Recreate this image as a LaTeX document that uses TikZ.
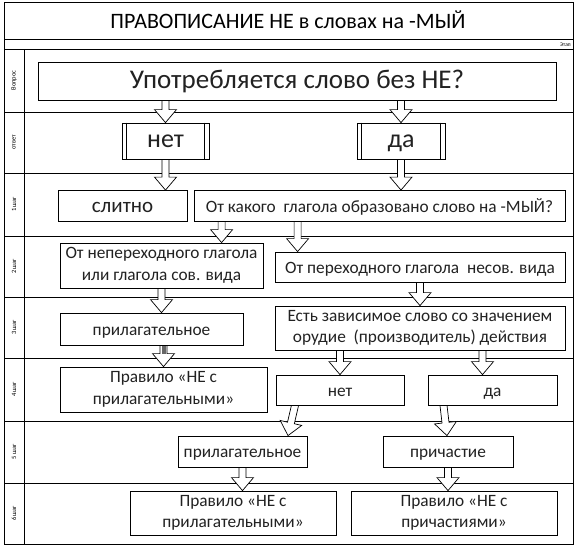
\documentclass[tikz,border=0pt]{standalone}
\usepackage{fontspec}
\setmainfont{Carlito}
\usetikzlibrary{calc}
\pgfdeclarelayer{bgframe}
\pgfdeclarelayer{bgarrow}
\pgfsetlayers{bgframe,bgarrow,main}
\definecolor{txt}{HTML}{222222}
\tikzset{
  box/.style={draw, line width=0.8pt, fill=white, inner sep=1pt, align=center,
    text=txt, font=\fontsize{17.3}{21.5}\selectfont},
  sline/.style={text height=12.5pt, text depth=0.5pt},
  framel/.style={line width=0.7pt},
  arrbody/.style={draw, line width=0.7pt, line join=miter},
  lbl/.style={rotate=90, font=\fontsize{6.5}{7}\selectfont},
}
\newcommand{\blockarrow}[3][white]{%
  \begin{pgfonlayer}{bgarrow}
    \path (#2) coordinate (bs) (#3) coordinate (be);
    \path ($(be)!13pt!(bs)$) coordinate (bh);
    \fill[white] ($(bs)!3.5pt!90:(be)$) -- ($(bh)!3.5pt!90:(be)$) -- ($(bh)!11pt!90:(be)$) -- (be)
      -- ($(bh)!11pt!-90:(be)$) -- ($(bh)!3.5pt!-90:(be)$) -- ($(bs)!3.5pt!-90:(be)$) -- cycle;
    \fill[#1] ($(bs)!2pt!90:(be)$) -- ($(bh)!2pt!90:(be)$) -- ($(bh)!2pt!-90:(be)$)
      -- ($(bs)!2pt!-90:(be)$) -- cycle;
    \draw[arrbody] ($(bs)!3.5pt!90:(be)$) -- ($(bh)!3.5pt!90:(be)$) -- ($(bh)!11pt!90:(be)$) -- (be)
      -- ($(bh)!11pt!-90:(be)$) -- ($(bh)!3.5pt!-90:(be)$) -- ($(bs)!3.5pt!-90:(be)$);
  \end{pgfonlayer}}
\begin{document}
\begin{tikzpicture}[x=1pt,y=-1pt]
\useasboundingbox (0,0) rectangle (576,546);
% frame
\begin{pgfonlayer}{bgframe}
  \draw[framel] (4,2) rectangle (573,544);
  \foreach \yy in {39,49,112,173,236,297,358,421,483}
    \draw[framel] (4,\yy) -- (573,\yy);
  \draw[framel] (24,49) -- (24,544);
\end{pgfonlayer}
\node[font=\fontsize{22}{26}\selectfont] (title) at (288,20) {ПРАВОПИСАНИЕ НЕ в словах на -МЫЙ};
\node[font=\fontsize{5.5}{6}\selectfont, anchor=east, inner sep=0pt] (etap) at (571,44.5) {Этап};
\node[lbl] (l0) at (14,80.5) {Вопрос};
\node[lbl] (l1) at (14,142.5) {ответ};
\node[lbl] (l2lab) at (14,204.5) {1 шаг};
\node[lbl] (l3lab) at (14,266.5) {2 шаг};
\node[lbl] (l4lab) at (14,327.5) {3 шаг};
\node[lbl] (l5lab) at (14,389.5) {4 шаг};
\node[lbl] (l6lab) at (14,452) {5 шаг};
\node[lbl] (l7lab) at (14,513.5) {6 шаг};
% boxes
\node[box, text height=19.4pt, text depth=5.9pt, minimum width=518pt, minimum height=38pt, font=\fontsize{27}{30}\selectfont] (q) at (297,81.5) {Употребляется слово без НЕ?};
\node[box, text height=18.7pt, text depth=5.7pt, minimum width=87pt, minimum height=36pt, font=\fontsize{26}{28}\selectfont] (nt) at (165.5,141) {нет};
\node[box, text height=18.7pt, text depth=5.7pt, minimum width=88pt, minimum height=36pt, font=\fontsize{26}{28}\selectfont] (da) at (401,141) {да};
\foreach \n in {nt,da}{
  \draw[line width=0.8pt] ([xshift=5pt]\n.north west) -- ([xshift=5pt]\n.south west);
  \draw[line width=0.8pt] ([xshift=-5pt]\n.north east) -- ([xshift=-5pt]\n.south east);
}
\node[box, text height=15.1pt, text depth=2pt, minimum width=129pt, minimum height=31pt, font=\fontsize{21}{24}\selectfont] (sl) at (122.5,206) {слитно};
\node[box, sline, minimum width=371pt, minimum height=31pt] (ok) at (379.5,206) {От какого\ \ глагола образовано слово на -МЫЙ?};
\node[box, minimum width=203pt, minimum height=45pt] (l2) at (161.5,265.5) {От непереходного глагола\\или глагола сов. вида};
\node[box, sline, minimum width=290pt, minimum height=30pt] (r2) at (420,267) {От переходного глагола\ \ несов. вида};
\node[box, sline, minimum width=183pt, minimum height=32pt] (a3) at (151.5,329) {прилагательное};
\node[box, minimum width=290pt, minimum height=44pt] (q3) at (420,328) {Есть зависимое слово со значением\\орудие\ \ (производитель) действия};
\node[box, minimum width=207pt, minimum height=45pt] (r4) at (163.5,389.5) {Правило «НЕ с\\прилагательными»};
\node[box, sline, minimum width=128pt, minimum height=30pt] (no4) at (340,390) {нет};
\node[box, sline, minimum width=129pt, minimum height=30pt] (yes4) at (492.5,390) {да};
\node[box, sline, minimum width=129pt, minimum height=31pt] (a5) at (242.5,451.5) {прилагательное};
\node[box, sline, minimum width=130pt, minimum height=31pt] (p5) at (448,451.5) {причастие};
\node[box, minimum width=206pt, minimum height=44pt] (r6a) at (233,513) {Правило «НЕ с\\прилагательными»};
\node[box, minimum width=206pt, minimum height=44pt] (r6b) at (454,513) {Правило «НЕ с\\причастиями»};
% helper coordinates
\coordinate (okA) at ($(ok.south west)+(28,0)$);
\coordinate (okB) at ($(ok.south west)+(104,0)$);
\coordinate (q3B) at ($(yes4.north)+(-10,0)$);
\coordinate (no4s) at ($(no4.south)+(-45,0)$);
\coordinate (a5n) at ($(a5.north)+(45.5,0)$);
\coordinate (yes4s) at ($(yes4.south)+(-49,0)$);
\coordinate (p5n) at ($(p5.north)+(-1,0)$);
% arrows
\blockarrow{q.south -| nt.north}{nt.north}
\blockarrow{da.north |- q.south}{da.north}
\blockarrow{nt.south}{nt.south |- sl.north}
\blockarrow{da.south}{da.south |- ok.north}
\blockarrow{okA}{okA |- l2.north}
\blockarrow{okB}{okB |- r2.north}
\blockarrow{l2.south}{l2.south |- a3.north}
\blockarrow{r2.south}{q3.north}
\blockarrow[black!60]{a3.south -| r4.north}{r4.north}
\blockarrow{q3.south -| no4.north}{no4.north}
\blockarrow{q3.south -| q3B}{q3B}
\blockarrow{no4s}{a5n}
\blockarrow{yes4s}{p5n}
\blockarrow{a5.south}{a5.south |- r6a.north}
\blockarrow{p5.south}{p5.south |- r6b.north}
\end{tikzpicture}
\end{document}
